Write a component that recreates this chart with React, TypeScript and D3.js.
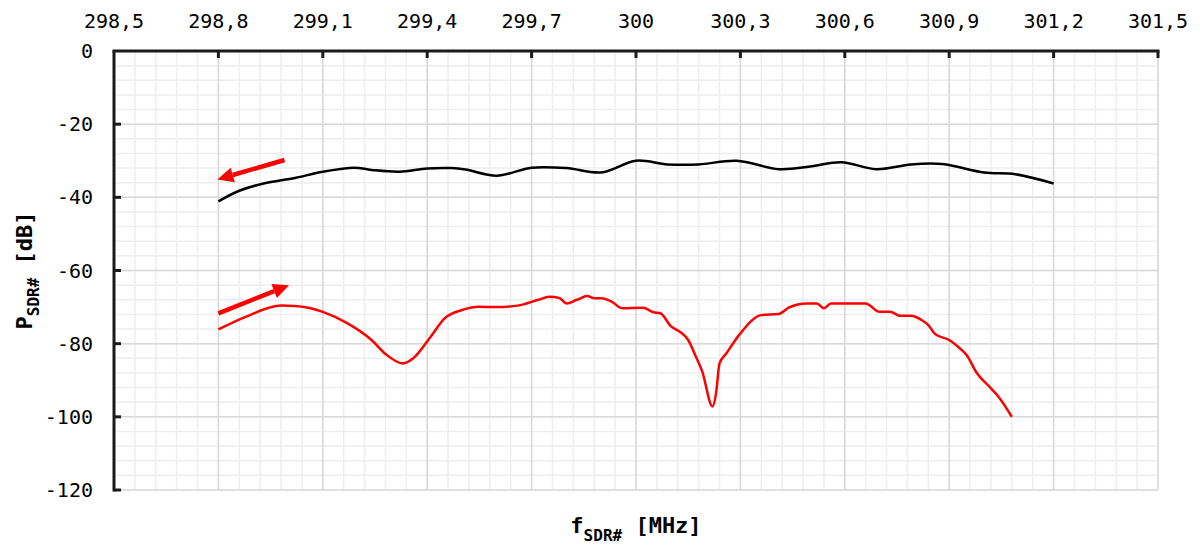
import { useEffect, useRef } from 'react';
import * as d3 from 'd3';

// frequency axis (MHz) ticks shown on top
const xTicks = [298.5, 298.8, 299.1, 299.4, 299.7, 300, 300.3, 300.6, 300.9, 301.2, 301.5];
const yTicks = [0, -20, -40, -60, -80, -100, -120];

// black trace
const blackF = [298.8, 298.86, 298.93, 299.02, 299.1, 299.19, 299.24, 299.32, 299.4, 299.47, 299.51, 299.6, 299.7, 299.8, 299.9, 300.0, 300.09, 300.18, 300.29, 300.41, 300.5, 300.59, 300.69, 300.79, 300.88, 301.0, 301.09, 301.2];
const blackP = [-41.1, -38.2, -36.2, -34.7, -33.0, -31.9, -32.5, -33.0, -32.1, -32.0, -32.4, -34.1, -31.9, -32.0, -33.2, -30.0, -31.0, -31.0, -30.0, -32.3, -31.6, -30.4, -32.3, -31.0, -30.9, -33.2, -33.7, -36.2];

// red trace
const redF = [298.8, 298.88, 298.98, 299.02, 299.1, 299.17, 299.24, 299.28, 299.33, 299.36, 299.41, 299.45, 299.5, 299.55, 299.6, 299.66, 299.72, 299.75, 299.78, 299.8, 299.83, 299.86, 299.88, 299.9, 299.93, 299.96, 300.02, 300.05, 300.07, 300.1, 300.13, 300.15, 300.17, 300.19, 300.22, 300.23, 300.24, 300.26, 300.3, 300.36, 300.41, 300.44, 300.49, 300.52, 300.54, 300.56, 300.66, 300.7, 300.73, 300.76, 300.79, 300.82, 300.84, 300.86, 300.9, 300.92, 300.95, 300.98, 301.02, 301.04, 301.08];
const redP = [-76.1, -72.6, -69.6, -69.7, -71.3, -74.4, -79.0, -82.8, -85.4, -84.0, -78.1, -73.1, -70.8, -69.9, -70.0, -69.6, -68.0, -67.2, -67.5, -69.0, -68.0, -67.0, -67.6, -67.6, -68.5, -70.3, -70.2, -71.4, -71.7, -75.2, -77.0, -79.0, -83.1, -87.5, -97.2, -93.6, -85.4, -82.6, -77.2, -72.2, -71.9, -70.1, -69.0, -69.0, -70.3, -69.0, -69.0, -71.3, -71.3, -72.4, -72.4, -73.5, -74.9, -77.4, -79.0, -80.4, -83.1, -88.1, -92.2, -94.3, -100.0];

// direction arrows: [tailF, tailP, tipF, tipP]
const blackArrow = [298.99, -29.8, 298.797, -35.1];
const redArrow = [298.8, -71.7, 299.003, -64.0];

const W = 1200;
const H = 548;
const margin = { top: 51, right: 42, bottom: 58, left: 114 };
const font = '"DejaVu Sans Mono", "Liberation Mono", monospace';

export default function App() {
  const svgRef = useRef<SVGSVGElement>(null);

  useEffect(() => {
    if (!svgRef.current) return;
    const svg = d3.select(svgRef.current);
    svg.selectAll('*').remove();

    const x = d3.scaleLinear().domain([298.5, 301.5]).range([margin.left, W - margin.right]);
    const y = d3.scaleLinear().domain([0, -120]).range([margin.top, H - margin.bottom]);

    // minor grid
    const minorX = d3.range(0, 51).map((i) => 298.5 + i * 0.06);
    const minorY = d3.range(0, 31).map((i) => -i * 4);
    svg.append('g')
      .selectAll('line')
      .data(minorX)
      .enter()
      .append('line')
      .attr('x1', (d) => x(d)).attr('x2', (d) => x(d))
      .attr('y1', y(0)).attr('y2', y(-120))
      .attr('stroke', '#eeeeee').attr('stroke-width', 1.5);
    svg.append('g')
      .selectAll('line')
      .data(minorY)
      .enter()
      .append('line')
      .attr('y1', (d) => y(d)).attr('y2', (d) => y(d))
      .attr('x1', x(298.5)).attr('x2', x(301.5))
      .attr('stroke', '#eeeeee').attr('stroke-width', 1.5);

    // major grid
    svg.append('g')
      .selectAll('line')
      .data(xTicks)
      .enter()
      .append('line')
      .attr('x1', (d) => x(d)).attr('x2', (d) => x(d))
      .attr('y1', y(0)).attr('y2', y(-120))
      .attr('stroke', '#d9d9d9').attr('stroke-width', 1.5);
    svg.append('g')
      .selectAll('line')
      .data(yTicks)
      .enter()
      .append('line')
      .attr('y1', (d) => y(d)).attr('y2', (d) => y(d))
      .attr('x1', x(298.5)).attr('x2', x(301.5))
      .attr('stroke', '#d9d9d9').attr('stroke-width', 1.5);

    // traces
    const blackData = blackF.map((f, i) => [f, blackP[i]] as [number, number]);
    const redData = redF.map((f, i) => [f, redP[i]] as [number, number]);

    svg.append('path')
      .datum(blackData)
      .attr('fill', 'none')
      .attr('stroke', '#000000')
      .attr('stroke-width', 2.5)
      .attr('d', d3.line<[number, number]>().x((d) => x(d[0])).y((d) => y(d[1])).curve(d3.curveCatmullRom.alpha(0.5)));

    svg.append('path')
      .datum(redData)
      .attr('fill', 'none')
      .attr('stroke', '#ff0000')
      .attr('stroke-width', 2.5)
      .attr('stroke-linejoin', 'round')
      .attr('d', d3.line<[number, number]>().x((d) => x(d[0])).y((d) => y(d[1])).curve(d3.curveMonotoneX));

    // arrows
    const drawArrow = (a: number[]) => {
      const x1 = x(a[0]), y1 = y(a[1]), x2 = x(a[2]), y2 = y(a[3]);
      const ang = Math.atan2(y2 - y1, x2 - x1);
      const len = 16, half = 7.5;
      const bx = x2 - len * Math.cos(ang), by = y2 - len * Math.sin(ang);
      svg.append('line')
        .attr('x1', x1).attr('y1', y1).attr('x2', bx).attr('y2', by)
        .attr('stroke', '#ff0000').attr('stroke-width', 4.5);
      const px = -Math.sin(ang), py = Math.cos(ang);
      svg.append('polygon')
        .attr('points', `${x2},${y2} ${bx + px * half},${by + py * half} ${bx - px * half},${by - py * half}`)
        .attr('fill', '#ff0000');
    };
    drawArrow(blackArrow);
    drawArrow(redArrow);

    // axes: top and left, ticks pointing inward
    const axisColor = '#1a1a1a';
    svg.append('line')
      .attr('x1', x(298.5) - 1.5).attr('x2', x(301.5) + 1.5)
      .attr('y1', y(0)).attr('y2', y(0))
      .attr('stroke', axisColor).attr('stroke-width', 3);
    svg.append('line')
      .attr('x1', x(298.5)).attr('x2', x(298.5))
      .attr('y1', y(0)).attr('y2', y(-120) + 1.5)
      .attr('stroke', axisColor).attr('stroke-width', 3);
    svg.append('g')
      .selectAll('line')
      .data(xTicks.slice(1))
      .enter()
      .append('line')
      .attr('x1', (d) => x(d)).attr('x2', (d) => x(d))
      .attr('y1', y(0)).attr('y2', y(0) + 7)
      .attr('stroke', axisColor).attr('stroke-width', 3);
    svg.append('g')
      .selectAll('line')
      .data(yTicks.slice(1))
      .enter()
      .append('line')
      .attr('y1', (d) => y(d)).attr('y2', (d) => y(d))
      .attr('x1', x(298.5)).attr('x2', x(298.5) + 7)
      .attr('stroke', axisColor).attr('stroke-width', 3);

    // tick labels
    svg.append('g')
      .selectAll('text')
      .data(xTicks)
      .enter()
      .append('text')
      .attr('x', (d) => x(d))
      .attr('y', 28)
      .attr('text-anchor', 'middle')
      .attr('font-family', font)
      .attr('font-size', 20)
      .attr('fill', '#000')
      .text((d) => String(d).replace('.', ','));
    svg.append('g')
      .selectAll('text')
      .data(yTicks)
      .enter()
      .append('text')
      .attr('x', 93)
      .attr('y', (d) => y(d))
      .attr('dy', '0.35em')
      .attr('text-anchor', 'end')
      .attr('font-family', font)
      .attr('font-size', 20)
      .attr('fill', '#000')
      .text((d) => String(d));

    // axis titles
    const xt = svg.append('text')
      .attr('x', (x(298.5) + x(301.5)) / 2)
      .attr('y', 533)
      .attr('text-anchor', 'middle')
      .attr('font-family', font)
      .attr('font-weight', 'bold')
      .attr('font-size', 22)
      .attr('fill', '#000');
    xt.append('tspan').text('f');
    xt.append('tspan').attr('dy', 8).attr('font-size', 16).text('SDR#');
    xt.append('tspan').attr('dy', -8).text(' [MHz]');

    const yt = svg.append('text')
      .attr('transform', `translate(32,${(y(0) + y(-120)) / 2}) rotate(-90)`)
      .attr('text-anchor', 'middle')
      .attr('font-family', font)
      .attr('font-weight', 'bold')
      .attr('font-size', 22)
      .attr('fill', '#000');
    yt.append('tspan').text('P');
    yt.append('tspan').attr('dy', 7).attr('font-size', 16).text('SDR#');
    yt.append('tspan').attr('dy', -7).text(' [dB]');
  }, []);

  return (
    <svg
      ref={svgRef}
      width={W}
      height={H}
      style={{ position: 'absolute', left: 0, top: 0, background: '#fff' }}
    />
  );
}
